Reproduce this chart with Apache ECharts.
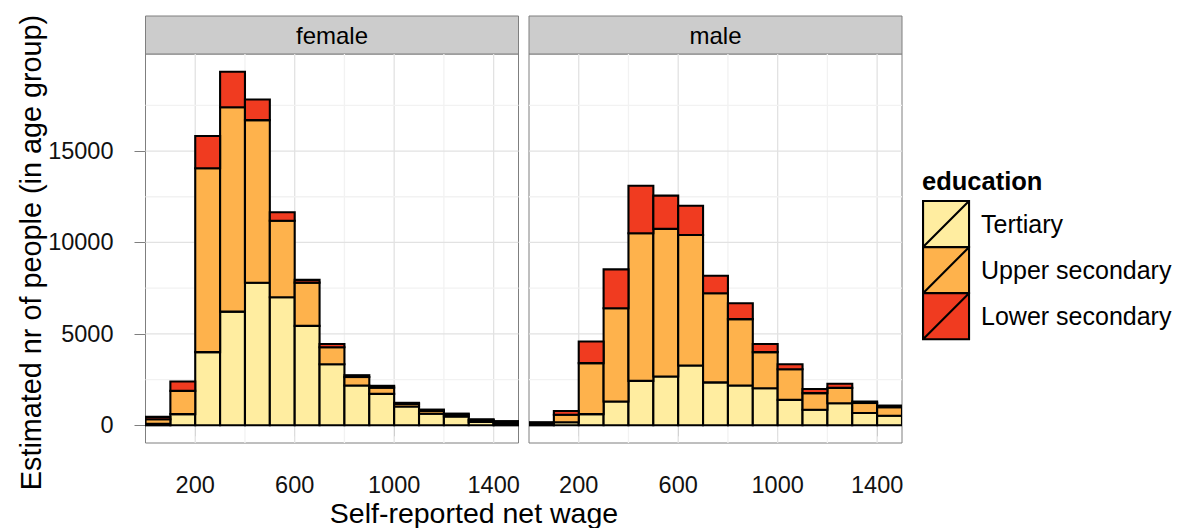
<!DOCTYPE html>
<html>
<head>
<meta charset="utf-8">
<script src="https://cdn.jsdelivr.net/npm/echarts@6/dist/echarts.min.js"></script>
<style>
  html, body { margin: 0; padding: 0; background: #ffffff; }
  #chart { width: 1177px; height: 528px; }
</style>
</head>
<body>
<div id="chart"></div>
<script>
// Wage bins (left edges, width 100)
const binStarts = [0, 100, 200, 300, 400, 500, 600, 700, 800, 900, 1000, 1100, 1200, 1300, 1400];
const binWidth = 100;

const educationLevels = ['Tertiary', 'Upper secondary', 'Lower secondary'];
const panelNames = ['female', 'male'];

// Estimated number of people per wage bin
const femaleTertiary = [80, 610, 4000, 6220, 7800, 7000, 5440, 3340, 2180, 1720, 1030, 630, 480, 190, 80];
const femaleUpper    = [250, 1275, 10055, 11170, 8890, 4190, 2365, 930, 460, 340, 140, 150, 110, 100, 90];
const femaleLower    = [130, 510, 1765, 1945, 1130, 460, 150, 180, 100, 100, 60, 80, 50, 40, 60];

const maleTertiary = [50, 170, 610, 1300, 2430, 2670, 3270, 2350, 2175, 2030, 1390, 850, 1210, 670, 520];
const maleUpper    = [70, 410, 2790, 5100, 8070, 8070, 7140, 4870, 3630, 1970, 1680, 910, 840, 550, 470];
const maleLower    = [50, 200, 1180, 2130, 2600, 1820, 1600, 960, 870, 450, 270, 230, 220, 80, 90];

// Axis breaks
const xMajorTicks = [200, 600, 1000, 1400];
const xMinorTicks = [400, 800, 1200];
const yMajorTicks = [0, 5000, 10000, 15000];
const yMinorTicks = [2500, 7500, 12500, 17500];

const xRange = [0, 1500];
const yRange = [-967, 20306];

const levelColors = ['#FFEDA0', '#FEB24C', '#F03B20'];
const FONT = '"Liberation Sans", Arial, Helvetica, sans-serif';
const OUTLINE = 2.1;

const panelValues = [
  [femaleTertiary, femaleUpper, femaleLower],
  [maleTertiary, maleUpper, maleLower]
];
const panelBoxes = [
  { left: 145.5, top: 54, width: 373, height: 389 },
  { left: 529, top: 54, width: 373, height: 389 }
];

const grids = panelBoxes.map(b => ({
  left: b.left, top: b.top, width: b.width, height: b.height,
  show: true, borderColor: '#7F7F7F', borderWidth: 1, backgroundColor: '#ffffff',
  containLabel: false
}));

const plainNumber = v => String(v);

const xAxes = panelBoxes.map((b, i) => ({
  type: 'value', gridIndex: i, min: xRange[0], max: xRange[1],
  axisLine: { show: false },
  splitLine: { show: false },
  axisTick: { show: true, customValues: xMajorTicks, length: 11, lineStyle: { color: '#7F7F7F', width: 1 } },
  axisLabel: { customValues: xMajorTicks, formatter: plainNumber, fontSize: 23.5, color: '#111', margin: 30, fontFamily: FONT }
}));

const yAxes = panelBoxes.map((b, i) => ({
  type: 'value', gridIndex: i, min: yRange[0], max: yRange[1],
  axisLine: { show: false },
  splitLine: { show: false },
  axisTick: { show: i === 0, customValues: yMajorTicks, length: 11, lineStyle: { color: '#7F7F7F', width: 1 } },
  axisLabel: { show: i === 0, customValues: yMajorTicks, formatter: plainNumber, fontSize: 23.5, color: '#111', margin: 32, fontFamily: FONT }
}));

// Background grid lines, drawn through the axes
function gridLineSeries(i, vertical) {
  const data = vertical
    ? xMajorTicks.map(v => [v, 1]).concat(xMinorTicks.map(v => [v, 0]))
    : yMajorTicks.map(v => [v, 1]).concat(yMinorTicks.map(v => [v, 0]));
  return {
    type: 'custom', xAxisIndex: i, yAxisIndex: i, silent: true, z: 1,
    data: data,
    renderItem: function (params, api) {
      const cs = params.coordSys;
      const v = api.value(0);
      const major = api.value(1) === 1;
      const style = { stroke: major ? '#E2E2E2' : '#F2F2F2', lineWidth: 1.3 };
      if (vertical) {
        const x = api.coord([v, 0])[0];
        return { type: 'line', shape: { x1: x, y1: cs.y, x2: x, y2: cs.y + cs.height }, style: style };
      }
      const y = api.coord([0, v])[1];
      return { type: 'line', shape: { x1: cs.x, y1: y, x2: cs.x + cs.width, y2: y }, style: style };
    }
  };
}

// Stacked histogram segments
function barSeries(i, level) {
  const data = binStarts.map((start, k) => {
    let base = 0;
    for (let l = 0; l < level; l++) base += panelValues[i][l][k];
    return [start, start + binWidth, base, base + panelValues[i][level][k]];
  });
  return {
    name: educationLevels[level],
    type: 'custom', xAxisIndex: i, yAxisIndex: i, z: 2, clip: true,
    color: levelColors[level],
    itemStyle: { color: levelColors[level], borderColor: '#000', borderWidth: OUTLINE },
    encode: { x: [0, 1], y: [2, 3] },
    data: data,
    renderItem: function (params, api) {
      const p0 = api.coord([api.value(0), api.value(3)]);
      const p1 = api.coord([api.value(1), api.value(2)]);
      return {
        type: 'rect',
        shape: { x: p0[0], y: p0[1], width: p1[0] - p0[0], height: p1[1] - p0[1] },
        style: { fill: levelColors[level], stroke: '#000', lineWidth: OUTLINE }
      };
    }
  };
}

const series = [];
panelBoxes.forEach((b, i) => {
  series.push(gridLineSeries(i, true));
  series.push(gridLineSeries(i, false));
  for (let l = 0; l < educationLevels.length; l++) series.push(barSeries(i, l));
});

// Facet strips, axis titles and legend title
const graphic = [];
panelBoxes.forEach((b, i) => {
  graphic.push({
    type: 'rect', silent: true,
    shape: { x: b.left, y: 16, width: b.width, height: 38 },
    style: { fill: '#CCCCCC', stroke: '#7F7F7F', lineWidth: 1 }
  });
  graphic.push({
    type: 'text', silent: true,
    x: b.left + b.width / 2, y: 35.5,
    style: { text: panelNames[i], fontSize: 24, fontFamily: FONT, fill: '#000', align: 'center', verticalAlign: 'middle' }
  });
});
graphic.push({
  type: 'text', silent: true, x: 474, y: 513.3,
  style: { text: 'Self-reported net wage', fontSize: 28.5, fontFamily: FONT, fill: '#000', align: 'center', verticalAlign: 'middle' }
});
graphic.push({
  type: 'text', silent: true, x: 31, y: 252.5, rotation: Math.PI / 2,
  style: { text: 'Estimated nr of people (in age group)', fontSize: 28.8, fontFamily: FONT, fill: '#000', align: 'center', verticalAlign: 'middle' }
});
graphic.push({
  type: 'text', silent: true, x: 922, y: 181,
  style: { text: 'education', fontSize: 25.5, fontWeight: 'bold', fontFamily: FONT, fill: '#000', align: 'left', verticalAlign: 'middle' }
});

const chart = echarts.init(document.getElementById('chart'), null, { renderer: 'svg' });
chart.setOption({
  animation: false,
  backgroundColor: '#ffffff',
  grid: grids,
  xAxis: xAxes,
  yAxis: yAxes,
  legend: {
    data: educationLevels,
    orient: 'vertical',
    left: 922, top: 200, padding: 0,
    itemWidth: 46, itemHeight: 46, itemGap: -2,
    selectedMode: false,
    icon: 'path://M0,0L10,0L10,10L0,10Z M0,10L10,0',
    itemStyle: { borderColor: '#000', borderWidth: OUTLINE },
    textStyle: { fontSize: 25, color: '#000', fontFamily: FONT, padding: [0, 0, 0, 7] }
  },
  graphic: graphic,
  series: series
});
</script>
</body>
</html>
